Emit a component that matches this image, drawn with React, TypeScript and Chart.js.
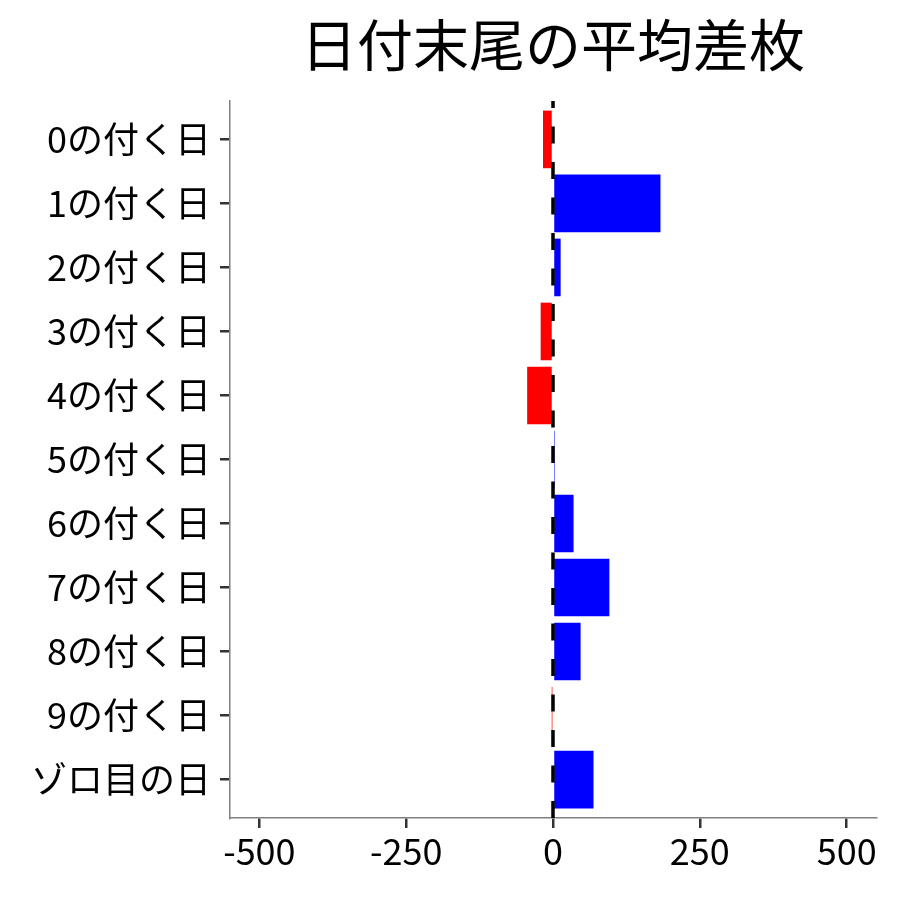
import React, { useEffect, useRef } from "react";
import { Chart, registerables } from "chart.js";

Chart.register(...registerables);

const TITLE = "日付末尾の平均差枚";
const categories = [
  "0の付く日",
  "1の付く日",
  "2の付く日",
  "3の付く日",
  "4の付く日",
  "5の付く日",
  "6の付く日",
  "7の付く日",
  "8の付く日",
  "9の付く日",
  "ゾロ目の日",
];
const values = [-17, 183, 13, -21, -44, 3, 35, 96, 47, -1, 69];
const xTicks = [-500, -250, 0, 250, 500];
const xMin = -550;
const xMax = 550;

const FONT = "'Noto Sans CJK JP', 'Noto Sans', sans-serif";

const overlayPlugin = {
  id: "overlay",
  afterDatasetsDraw(chart: any) {
    const { ctx, chartArea, scales } = chart;
    const x0 = scales.x.getPixelForValue(0);
    ctx.save();
    ctx.beginPath();
    ctx.rect(chartArea.left, chartArea.top, chartArea.right - chartArea.left, chartArea.bottom - chartArea.top);
    ctx.clip();
    ctx.strokeStyle = "#000000";
    ctx.lineWidth = 3.5;
    ctx.setLineDash([17, 18.5]);
    ctx.beginPath();
    ctx.moveTo(x0, chartArea.top - 10);
    ctx.lineTo(x0, chartArea.bottom + 5);
    ctx.stroke();
    ctx.restore();
  },
  afterDraw(chart: any) {
    const { ctx, chartArea } = chart;
    ctx.save();
    ctx.fillStyle = "#000000";
    ctx.font = `56px ${FONT}`;
    ctx.textAlign = "center";
    ctx.textBaseline = "middle";
    ctx.fillText(TITLE, (chartArea.left + chartArea.right) / 2, 45);
    ctx.restore();
  },
};

export default function App() {
  const ref = useRef<HTMLCanvasElement>(null);
  useEffect(() => {
    if (!ref.current) return;
    const chart = new Chart(ref.current, {
      type: "bar",
      data: {
        datasets: [
          {
            data: values.map((v, i) => ({ x: v, y: i })),
            backgroundColor: values.map((v) => (v < 0 ? "#FF0000" : "#0000FF")),
            borderWidth: 0,
            barPercentage: 0.9,
            categoryPercentage: 1,
          },
        ],
      },
      options: {
        animation: false,
        responsive: false,
        indexAxis: "y",
        layout: { padding: { top: 101, right: 24, left: 0, bottom: 0 } },
        plugins: {
          legend: { display: false },
          tooltip: { enabled: false },
          title: { display: false },
        },
        scales: {
          y: {
            type: "linear",
            reverse: true,
            offset: false,
            min: -0.6,
            max: 10.6,
            afterBuildTicks: (s: any) => {
              s.ticks = categories.map((_, i) => ({ value: i }));
            },
            afterFit: (s: any) => {
              s.width = 230;
            },
            ticks: {
              autoSkip: false,
              callback: (v: any) => categories[v as number] ?? "",
              color: "#000000",
              font: { family: FONT, size: 36 },
              padding: 9,
            },
            grid: {
              offset: false,
              drawOnChartArea: false,
              drawTicks: true,
              tickLength: 10,
              color: "#333333",
              lineWidth: 2.5,
            },
            border: { display: true, color: "#808080", width: 1.5 },
          },
          x: {
            type: "linear",
            min: xMin,
            max: xMax,
            afterBuildTicks: (s: any) => {
              s.ticks = xTicks.map((v) => ({ value: v }));
            },
            afterFit: (s: any) => {
              s.height = 82;
            },
            ticks: {
              autoSkip: false,
              maxRotation: 0,
              color: "#000000",
              font: { family: FONT, size: 36 },
              padding: 2,
            },
            grid: {
              drawOnChartArea: false,
              drawTicks: true,
              tickLength: 10,
              color: "#333333",
              lineWidth: 2.5,
            },
            border: { display: true, color: "#808080", width: 1.5 },
          },
        },
      },
      plugins: [overlayPlugin],
    } as any);
    return () => chart.destroy();
  }, []);
  return (
    <div style={{ position: "fixed", left: 0, top: 0, width: 900, height: 900, background: "#ffffff" }}>
      <canvas ref={ref} width={900} height={900} style={{ display: "block" }} />
    </div>
  );
}
